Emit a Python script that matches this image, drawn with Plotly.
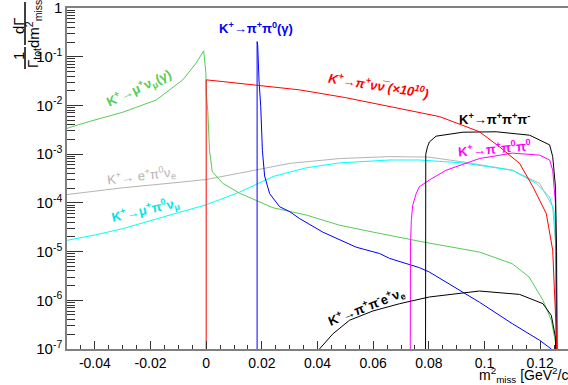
import plotly.graph_objects as go

# ---------------- data ----------------
green_x = [-0.05, -0.042, -0.03, -0.018, -0.0084, -0.0036, -0.0009, -0.0001, 0.0, 0.0006, 0.0012, 0.0022,
           0.006, 0.012, 0.018, 0.024, 0.036, 0.048, 0.06, 0.073, 0.0778, 0.0982, 0.110, 0.116, 0.121,
           0.124, 0.1258, 0.1262]
green_y = [3.39e-3, 4.68e-3, 7.24e-3, 1.29e-2, 3.35e-2, 7.41e-2, 0.132, 4.68e-2, 1.82e-2, 7.41e-3, 1.20e-3,
           4.37e-4, 2.51e-4, 1.58e-4, 1.12e-4, 7.94e-5, 5.62e-5, 3.47e-5, 2.51e-5, 1.78e-5, 1.58e-5,
           9.77e-6, 5.62e-6, 3.02e-6, 1.0e-6, 3.89e-7, 1.10e-7, 1e-8]

red_x = [0.0, 0.0, 0.006, 0.018, 0.0335, 0.05, 0.06, 0.07, 0.0839, 0.0982, 0.1054, 0.1126, 0.1174,
         0.1222, 0.1245, 0.1258, 0.1261]
red_y = [1e-8, 3.35e-2, 3.09e-2, 2.63e-2, 2.09e-2, 1.45e-2, 1.10e-2, 8.51e-3, 5.89e-3, 2.88e-3, 1.41e-3,
         6.46e-4, 2.14e-4, 6.03e-5, 1.07e-5, 2.09e-7, 1e-8]

blue_x = [0.0183, 0.0183, 0.0185, 0.0190, 0.0196, 0.0202, 0.021, 0.0228, 0.0264, 0.030, 0.0335, 0.0419,
          0.0539, 0.0623, 0.0659, 0.0766, 0.0802, 0.0982, 0.110, 0.1198, 0.124, 0.1245]
blue_y = [1e-8, 0.204, 0.178, 3.16e-2, 9.55e-3, 1.20e-3, 3.55e-4, 1.55e-4, 8.32e-5, 6.61e-5, 4.79e-5,
          2.51e-5, 1.23e-5, 9.12e-6, 7.24e-6, 4.68e-6, 3.80e-6, 9.12e-7, 3.31e-7, 1.51e-7, 1.0e-7, 1e-8]

gray_x = [-0.05, -0.03, -0.01, 0.0, 0.012, 0.03, 0.048, 0.066, 0.08, 0.0922, 0.110, 0.1198, 0.1245,
          0.1258, 0.1262]
gray_y = [1.48e-4, 2.04e-4, 2.63e-4, 3.02e-4, 4.07e-4, 6.46e-4, 8.13e-4, 8.91e-4, 8.71e-4, 6.92e-4,
          4.68e-4, 2.51e-4, 8.32e-5, 9.33e-6, 1e-8]

cyan_x = [-0.05, -0.04, -0.03, -0.02, -0.01, 0.0, 0.012, 0.018, 0.024, 0.036, 0.048, 0.066, 0.0766,
          0.0922, 0.110, 0.1186, 0.1234, 0.1252, 0.1258, 0.1261, 0.1263]
cyan_y = [1.70e-5, 2.19e-5, 2.95e-5, 4.37e-5, 6.31e-5, 9.12e-5, 1.66e-4, 2.40e-4, 3.47e-4, 5.25e-4,
          6.61e-4, 7.59e-4, 7.59e-4, 6.61e-4, 4.68e-4, 2.51e-4, 1.32e-4, 6.03e-5, 4.17e-6, 2.82e-7, 1e-8]

k3pi_x = [0.0788, 0.0789, 0.0795, 0.0802, 0.0826, 0.0922, 0.1042, 0.1162, 0.1234, 0.1245, 0.1255,
          0.1259, 0.1261]
k3pi_y = [1e-8, 1.0e-3, 1.41e-3, 1.78e-3, 2.34e-3, 2.82e-3, 2.88e-3, 2.45e-3, 1.55e-3, 8.91e-4, 2.14e-4,
          1.0e-5, 1e-8]

mag_x = [0.0733, 0.0734, 0.0737, 0.0742, 0.0755, 0.0766, 0.0802, 0.0862, 0.0982, 0.110, 0.1198, 0.1234,
         0.1245, 0.1255, 0.1258]
mag_y = [1e-8, 1.26e-5, 4.37e-5, 8.91e-5, 1.58e-4, 2.14e-4, 2.95e-4, 4.68e-4, 8.13e-4, 1.05e-3, 9.55e-4,
         7.59e-4, 4.68e-4, 9.77e-5, 1e-8]

ke4_x = [0.0400, 0.0455, 0.0515, 0.0599, 0.0695, 0.0802, 0.0982, 0.1126, 0.121, 0.124, 0.1255, 0.1258]
ke4_y = [9e-8, 2.04e-7, 3.89e-7, 6.03e-7, 8.51e-7, 1.17e-6, 1.55e-6, 1.32e-6, 8.51e-7, 4.90e-7,
         1.74e-7, 1e-8]

x_ticks = [-0.04, -0.02, 0.0, 0.02, 0.04, 0.06, 0.08, 0.1, 0.12]
x_tick_text = ["-0.04", "-0.02", "0", "0.02", "0.04", "0.06", "0.08", "0.1", "0.12"]
y_ticks = [1e-7, 1e-6, 1e-5, 1e-4, 1e-3, 1e-2, 1e-1, 1]
y_tick_text = ["10<sup>-7</sup>", "10<sup>-6</sup>", "10<sup>-5</sup>", "10<sup>-4</sup>",
               "10<sup>-3</sup>", "10<sup>-2</sup>", "10<sup>-1</sup>", "1"]

# ---------------- figure ----------------
W, H = 568, 385
L, R, T, B = 67, 0, 8, 36
PW, PH = W - L - R, H - T - B


def px(xp):
    return (xp - L) / PW


def py(yp):
    return (H - B - yp) / PH


FONT = "Liberation Sans, Arial, sans-serif"

fig = go.Figure()
series = [
    (gray_x, gray_y, "#b4b4b4"),
    (cyan_x, cyan_y, "#00ffff"),
    (green_x, green_y, "#55cc55"),
    (blue_x, blue_y, "#0000ff"),
    (mag_x, mag_y, "#ff00ff"),
    (k3pi_x, k3pi_y, "#000000"),
    (ke4_x, ke4_y, "#000000"),
    (red_x, red_y, "#ff0000"),
]
for xs, ys, c in series:
    fig.add_trace(go.Scatter(x=xs, y=ys, mode="lines", line=dict(color=c, width=1),
                             showlegend=False, hoverinfo="skip"))

x_minor = [round(-0.05 + 0.005 * i, 4) for i in range(37)]
y_minor = [k * 10.0 ** e for e in range(-7, 0) for k in range(2, 10)]

fig.update_layout(
    width=W, height=H,
    margin=dict(l=L, r=R, t=T, b=B, autoexpand=False),
    paper_bgcolor="white", plot_bgcolor="white",
    font=dict(family=FONT, color="black"),
    xaxis=dict(range=[-0.05, 0.13], tickmode="array", tickvals=x_ticks, ticktext=x_tick_text,
               automargin=False, ticklabeloverflow="allow",
               ticks="inside", ticklen=8, tickcolor="#333", showgrid=False, zeroline=False,
               showline=True, linecolor="#808080", linewidth=1.5, mirror=True,
               tickfont=dict(size=14, family=FONT),
               minor=dict(tickmode="array", tickvals=x_minor, ticks="inside", ticklen=4,
                          tickcolor="#333", showgrid=False)),
    yaxis=dict(type="log", range=[-7, 0.0005], tickmode="array", tickvals=y_ticks, ticktext=y_tick_text,
               automargin=False, ticklabeloverflow="allow",
               ticks="inside", ticklen=16, tickcolor="#333", showgrid=False, zeroline=False,
               showline=True, linecolor="#808080", linewidth=1.5, mirror=True,
               tickfont=dict(size=15, family=FONT),
               minor=dict(tickmode="array", tickvals=y_minor, ticks="inside", ticklen=8,
                          tickcolor="#333", showgrid=False)),
)


def label(text, xp, yp, color, angle=0, size=13):
    fig.add_annotation(x=px(xp), y=py(yp), xref="paper", yref="paper", text=text, showarrow=False,
                       textangle=angle, xanchor="center", yanchor="middle",
                       font=dict(size=size, color=color, family=FONT))


label("<b>K<sup>+</sup>→π<sup>+</sup>π<sup>0</sup>(γ)</b>", 256, 28, "#0000ff", 0, 13)
label("<b><i>K<sup>+</sup>→π<sup>+</sup>νν\u0305 (×10<sup>10</sup>)</i></b>", 378, 85, "#ff0000", 9, 13)
label("<b>K<sup>+</sup>→μ<sup>+</sup>ν<sub>μ</sub>(γ)</b>", 139, 88, "#55cc55", -25, 13)
label("K<sup>+</sup>→ e<sup>+</sup>π<sup>0</sup>ν<sub>e</sub>", 141, 176, "#b4b4b4", -7, 13)
label("<b>K<sup>+</sup>→μ<sup>+</sup>π<sup>0</sup>ν<sub>μ</sub></b>", 145, 210, "#00e5e5", -13, 13)
label("<b>K<sup>+</sup>→π<sup>+</sup>π<sup>+</sup>π<sup>-</sup></b>", 494, 119, "#000000", 0, 13)
label("<b>K<sup>+</sup>→π<sup>+</sup>π<sup>0</sup>π<sup>0</sup></b>", 494, 148, "#ff00ff", -5, 13)
label("<b>K<sup>+</sup>→π<sup>+</sup>π<sup>-</sup>e<sup>+</sup>ν<sub>e</sub></b>", 366, 307, "#000000", -22, 13)

# x-axis title
fig.add_annotation(x=px(477), y=py(375), xref="paper", yref="paper",
                   text="m<sup>2</sup><sub>miss</sub> [GeV<sup>2</sup>/c<sup>4</sup>]",
                   showarrow=False, xanchor="left", yanchor="middle",
                   font=dict(size=14, family=FONT, color="black"))

# y-axis title built as two fractions
label("1", 19, 56, "black", -90, 15)
label("Γ<sub>tot</sub>", 34, 58, "black", -90, 15)
label("dΓ", 19, 26, "black", -90, 15)
label("dm<sup>2</sup><sub>miss</sub>", 34, 24, "black", -90, 15)
for y0, y1 in [(47, 69), (2, 45)]:
    fig.add_shape(type="line", xref="paper", yref="paper", x0=px(25), x1=px(25), y0=py(y0), y1=py(y1),
                  line=dict(color="black", width=1.5))

fig.write_html("out.html", config={"displayModeBar": False},
               post_script="document.body.style.margin='0px';")
